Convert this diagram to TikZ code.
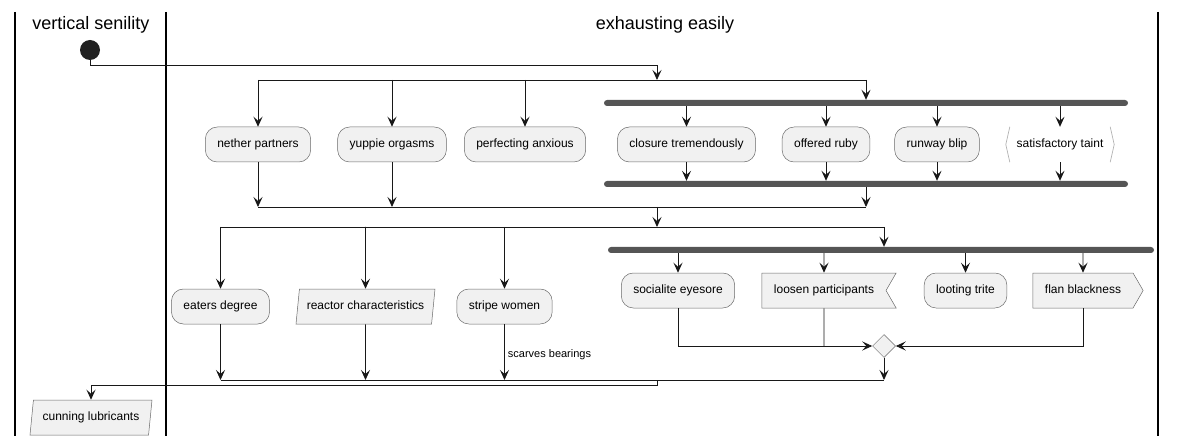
\documentclass[tikz,border=0pt]{standalone}
\usepackage{fontspec}
\setmainfont{Liberation Sans}
\usepackage{tikz}
\usetikzlibrary{arrows.meta, positioning, shapes.geometric, shapes.symbols, calc}
\definecolor{actfill}{HTML}{F1F1F1}
\definecolor{actline}{HTML}{181818}
\definecolor{barfill}{HTML}{555555}

\begin{document}
\begin{tikzpicture}[
    x=1pt, y=-1pt,
    font=\fontsize{12}{14}\selectfont,
    box/.style={draw=actline!65, line width=0.5pt, fill=actfill, minimum height=35pt,
                inner xsep=12pt, text height=8.6pt, text depth=2.4pt},
    act/.style={box, rectangle, rounded corners=12pt},
    inout/.style={box, trapezium, trapezium left angle=79, trapezium right angle=101,
                  trapezium stretches body, inner xsep=2pt},
    sigin/.style={box, signal, signal to=nowhere, signal from=east, signal pointer angle=120},
    sigout/.style={box, signal, signal to=east, signal pointer angle=120},
    tag/.style={rectangle, minimum height=35pt, minimum width=108pt, inner xsep=0pt,
                text height=8.6pt, text depth=2.4pt},
    tagline/.style={draw=black!30, line width=0.7pt},
    bar/.style={rectangle, fill=barfill, minimum height=6pt, inner sep=0pt, rounded corners=3pt},
    choice/.style={diamond, draw=actline!65, line width=0.5pt, fill=actfill,
                   minimum size=23pt, inner sep=0pt},
    init/.style={circle, fill=black!87, minimum size=20pt, inner sep=0pt},
    lane/.style={line width=1.4pt},
    title/.style={font=\fontsize{18}{21}\selectfont},
    lbl/.style={font=\fontsize{11}{13}\selectfont, inner sep=1pt},
    wire/.style={line width=0.9pt, draw=actline},
    arr/.style={wire, -{Stealth[length=10pt, width=9pt, inset=4pt]}},
]
\useasboundingbox (0,0) rectangle (1177,446);

% Swimlanes
\draw[lane] (15,12) -- (15,436);
\draw[lane] (166,12) -- (166,436);
\draw[lane] (1158,12) -- (1158,436);
\node[title] (laneA) at (91,25) {vertical senility};
\node[title] (laneB) at (665,25) {exhausting easily};

% First split
\node[init] (start) at (90,50) {};
\coordinate (split1) at (657,80);
\node[act] (np) at (258,144.5) {nether partners};
\node[act] (yo) at (392,144.5) {yuppie orgasms};
\node[act] (pa) at (525,144.5) {perfecting anxious};

% First fork
\node[bar, minimum width=524pt] (fork1) at (866,103) {};
\node[act] (ct) at (686.5,144.5) {closure tremendously};
\node[act] (or) at (826,144.5) {offered ruby};
\node[act] (rb) at (937,144.5) {runway blip};
\node[tag] (st) at (1060,144.5) {satisfactory taint};
\node[bar, minimum width=524pt] (join1) at (866,184) {};
\coordinate (merge1) at (657,207);

% Second split
\coordinate (split2) at (657,227);
\node[act] (ed) at (220.5,306.5) {eaters degree};
\node[inout, minimum width=139pt] (rc) at (365.5,306.5) {reactor characteristics};
\node[act] (sw) at (504.5,306.5) {stripe women};

% Second fork
\node[bar, minimum width=546pt] (fork2) at (881,250) {};
\node[act] (se) at (678,290.5) {socialite eyesore};
\node[sigin] (lp) at (824,290.5) {loosen participants};
\node[act] (lt) at (965.5,290.5) {looting trite};
\node[sigout] (fb) at (1083,290.5) {flan blackness};
\node[choice] (dec) at (884,346) {};
\coordinate (merge2) at (657,380);

% End
\node[inout, minimum width=122pt] (cl) at (91,417.5) {cunning lubricants};

% Tag outline
\draw[tagline] ([xshift=4pt]st.north west) -- (st.west) -- ([xshift=4pt]st.south west);
\draw[tagline] ([xshift=-4pt]st.north east) -- (st.east) -- ([xshift=-4pt]st.south east);

% Connections
\draw[arr] (start.south) -- ++(0,5) -| (split1);
\draw[wire] (np |- split1) -- (fork1 |- split1);
\draw[arr] (np |- split1) -- (np);
\draw[arr] (yo |- split1) -- (yo);
\draw[arr] (pa |- split1) -- (pa);
\draw[arr] (fork1 |- split1) -- (fork1);
\foreach \n in {ct, or, rb, st} {
  \draw[arr] (fork1.south -| \n) -- (\n);
  \draw[arr] (\n) -- (\n |- join1.north);
}
\draw[wire] (np |- merge1) -- (join1 |- merge1);
\draw[arr] (np) -- (np |- merge1);
\draw[arr] (yo) -- (yo |- merge1);
\draw[arr] (join1) -- (join1 |- merge1);
\draw[arr] (merge1) -- (split2);

\draw[wire] (ed |- split2) -- (dec |- split2);
\foreach \n in {ed, rc, sw} {
  \draw[arr] (\n |- split2) -- (\n);
}
\draw[arr] (dec |- split2) -- (dec |- fork2.north);
\foreach \n in {se, lp, lt, fb} {
  \draw[arr] (fork2.south -| \n) -- (\n);
}
\draw[arr] (se) |- (dec);
\draw[wire] (lp) -- (lp |- dec);
\draw[arr] (fb) |- (dec);
\draw[arr] (dec) -- (dec |- merge2);

\draw[wire] (ed |- merge2) -- (dec |- merge2);
\draw[arr] (ed) -- (ed |- merge2);
\draw[arr] (rc) -- (rc |- merge2);
\draw[arr] (sw) -- node[lbl, right=2pt, pos=0.55] (sb) {scarves bearings} (sw |- merge2);
\draw[arr] (merge2) -- ++(0,5) -| (cl);

\end{tikzpicture}
\end{document}
